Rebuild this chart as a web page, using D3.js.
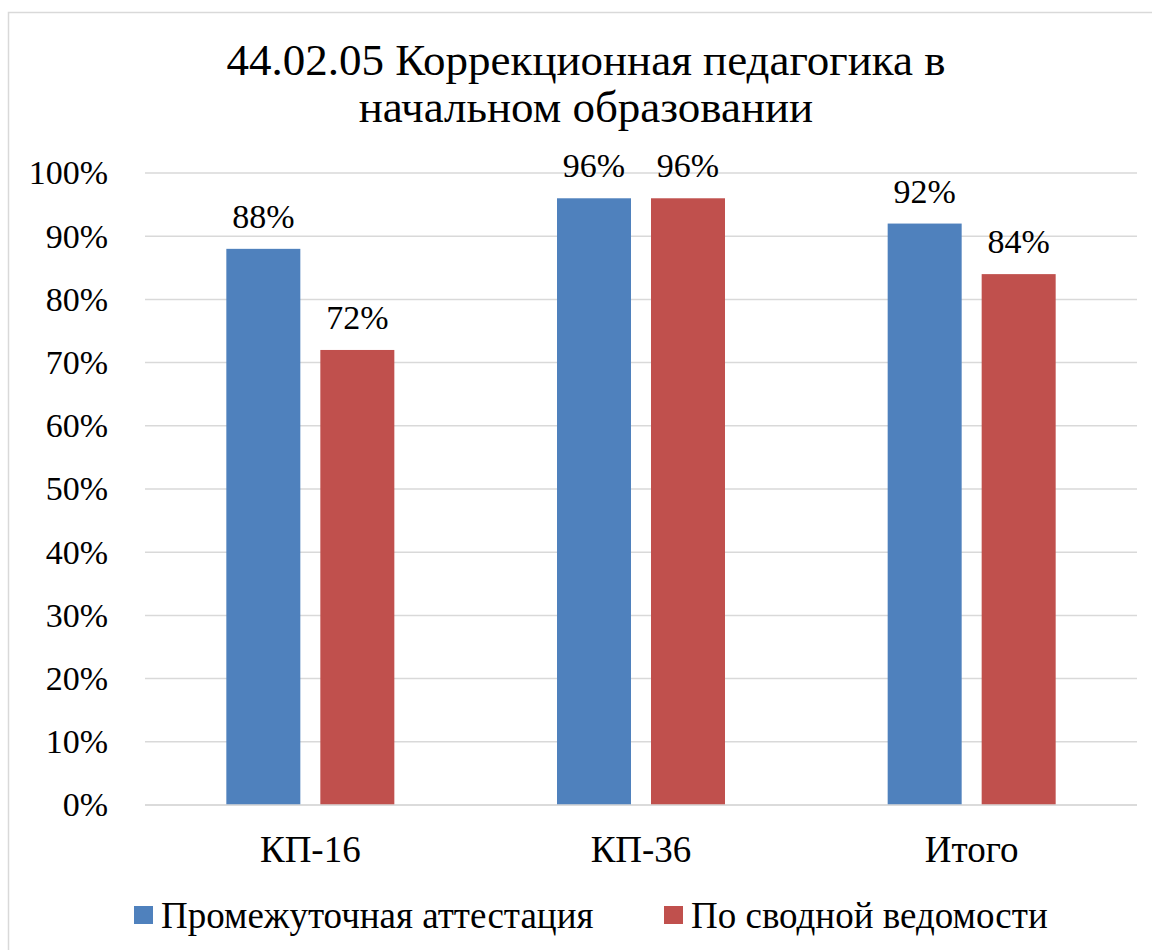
<!DOCTYPE html>
<html>
<head>
<meta charset="utf-8">
<script src="https://cdn.jsdelivr.net/npm/d3@7"></script>
</head>
<body style="margin:0;background:#fff">
<svg id="vis" width="1152" height="950" font-family="Liberation Serif"></svg>
<script>
const categories = ["КП-16", "КП-36", "Итого"];
const seriesNames = ["Промежуточная аттестация", "По сводной ведомости"];
const attestation = [0.88, 0.96, 0.92];
const summary = [0.72, 0.96, 0.84];
const yTicks = [0, 0.1, 0.2, 0.3, 0.4, 0.5, 0.6, 0.7, 0.8, 0.9, 1.0];
const colors = ["#4F81BD", "#C0504D"];
const titleLines = ["44.02.05 Коррекционная педагогика в", "начальном образовании"];

const FONT = "Liberation Serif";
const MARGIN = { top: 173, right: 15, bottom: 145, left: 145 };
const W = 1152, H = 950;
const svg = d3.select("#vis");

// sets the serif face on every label
function serif(sel, size) {
  sel.attr("font-family", FONT)
    .style("font-family", "'" + FONT + "'", "important")
    .style("font-size", size + "px");
}

// chart frame
svg.append("rect")
  .attr("x", 8.5).attr("y", 12.5)
  .attr("width", W).attr("height", H)
  .attr("fill", "none").attr("stroke", "#d9d9d9").attr("stroke-width", 1.5);

const x = d3.scaleBand().domain(categories).range([MARGIN.left, W - MARGIN.right]).padding(0);
const y = d3.scaleLinear().domain([0, 1]).range([H - MARGIN.bottom, MARGIN.top]);

const barW = 74, gap = 20;
const sub = d3.scaleOrdinal().domain([0, 1]).range([-(gap / 2 + barW), gap / 2]);

// gridlines
svg.append("g").selectAll("line").data(yTicks).join("line")
  .attr("x1", MARGIN.left).attr("x2", W - MARGIN.right)
  .attr("y1", d => y(d)).attr("y2", d => y(d))
  .attr("stroke", "#d9d9d9").attr("stroke-width", 1.5);

// y axis
const yAxis = svg.append("g")
  .attr("transform", "translate(" + (MARGIN.left - 37) + ",0)")
  .call(d3.axisLeft(y).tickValues(yTicks).tickFormat(d3.format(".0%")).tickSize(0).tickPadding(0));
yAxis.attr("font-family", FONT).attr("font-size", null);
yAxis.select(".domain").remove();
yAxis.selectAll("text").attr("fill", "#000").call(serif, 34);

// bars + labels
const series = [attestation, summary];
series.forEach((vals, si) => {
  const g = svg.append("g");
  g.selectAll("rect").data(vals).join("rect")
    .attr("x", (d, i) => x(categories[i]) + x.bandwidth() / 2 + sub(si))
    .attr("y", d => y(d))
    .attr("width", barW)
    .attr("height", d => y(0) - y(d))
    .attr("fill", colors[si]);
  g.selectAll("text").data(vals).join("text")
    .attr("x", (d, i) => x(categories[i]) + x.bandwidth() / 2 + sub(si) + barW / 2)
    .attr("y", d => y(d) - 21)
    .attr("text-anchor", "middle")
    .attr("fill", "#000")
    .call(serif, 34)
    .text(d => d3.format(".0%")(d));
});

// baseline
svg.append("line")
  .attr("x1", MARGIN.left).attr("x2", W - MARGIN.right)
  .attr("y1", y(0)).attr("y2", y(0))
  .attr("stroke", "#d9d9d9").attr("stroke-width", 1.5);

// x axis labels
const xAxis = svg.append("g")
  .attr("transform", "translate(0," + y(0) + ")")
  .call(d3.axisBottom(x).tickSize(0).tickPadding(0));
xAxis.attr("font-family", FONT).attr("font-size", null);
xAxis.select(".domain").remove();
xAxis.selectAll("text")
  .attr("dy", null).attr("y", 57)
  .attr("fill", "#000")
  .call(serif, 37);

// title
svg.append("g").selectAll("text").data(titleLines).join("text")
  .attr("x", 586).attr("y", (d, i) => 75 + i * 47)
  .attr("text-anchor", "middle")
  .attr("fill", "#000")
  .call(serif, 45)
  .text(d => d);

// legend
const legendX = [134, 664];
const legend = svg.append("g").selectAll("g").data(seriesNames).join("g")
  .attr("transform", (d, i) => "translate(" + legendX[i] + ",906)");
legend.append("rect").attr("width", 19).attr("height", 18).attr("fill", (d, i) => colors[i]);
legend.append("text").attr("x", 27).attr("y", 22)
  .attr("fill", "#000")
  .call(serif, 37)
  .text(d => d);
</script>
</body>
</html>
